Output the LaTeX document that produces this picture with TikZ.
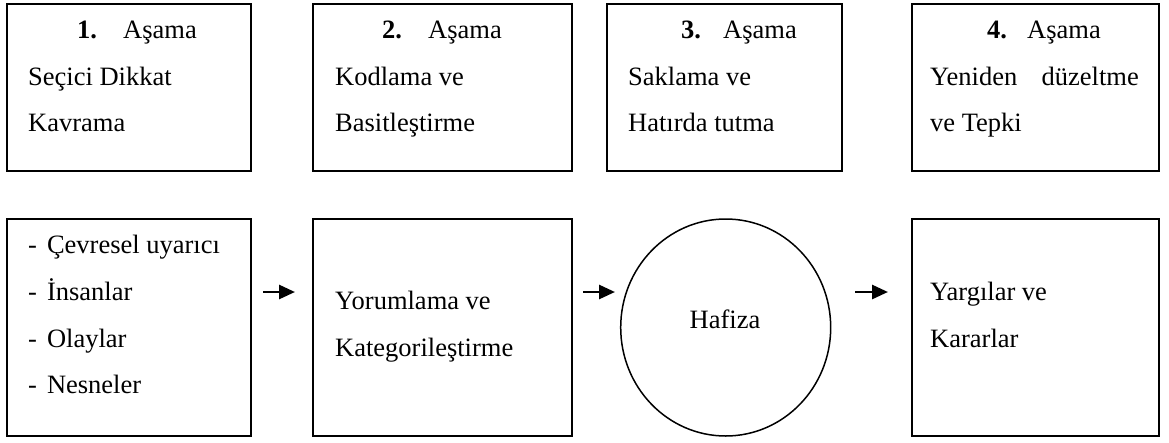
\documentclass[tikz,border=0pt]{standalone}
\usepackage{fontspec}
\setmainfont{Liberation Serif}
\usetikzlibrary{arrows.meta,shapes.geometric}
\begin{document}
\begin{tikzpicture}[x=1pt,y=-1pt,
  box/.style={draw=black,line width=1.8pt,rectangle,inner sep=0pt},
  txt/.style={inner sep=0pt,anchor=base west,font=\fontsize{26.5}{30}\selectfont},
  txtc/.style={inner sep=0pt,anchor=base,font=\fontsize{26.5}{30}\selectfont},
  txte/.style={inner sep=0pt,anchor=base east,font=\fontsize{26.5}{30}\selectfont},
  arr/.style={line width=2.8pt,-{Triangle[length=16pt,width=14pt]}}]
\useasboundingbox (0,0) rectangle (1169,442);
% top boxes
\node[box,minimum width=244pt,minimum height=167pt] (t1) at (129,87.5) {};
\node[box,minimum width=259pt,minimum height=167pt] (t2) at (442.5,87.5) {};
\node[box,minimum width=235pt,minimum height=167pt] (t3) at (724.5,87.5) {};
\node[box,minimum width=247pt,minimum height=167pt] (t4) at (1035.5,87.5) {};
% bottom shapes
\node[box,minimum width=244pt,minimum height=217pt] (b1) at (129,327.5) {};
\node[box,minimum width=259pt,minimum height=217pt] (b2) at (442.5,327.5) {};
\node[draw=black,line width=1.5pt,ellipse,inner sep=0pt,minimum width=210pt,minimum height=217pt] (b3) at (725.7,327.5) {};
\node[box,minimum width=247pt,minimum height=217pt] (b4) at (1035.5,327.5) {};
% top texts
\node[txt] (t1n) at (77,38) {\textbf{1.}};
\node[txt] (t1a) at (123,38) {Aşama};
\node[txt] (t1b) at (28,85) {Seçici Dikkat};
\node[txt] (t1c) at (28,131) {Kavrama};
\node[txt] (t2n) at (382,38) {\textbf{2.}};
\node[txt] (t2a) at (428,38) {Aşama};
\node[txt] (t2b) at (335,85) {Kodlama ve};
\node[txt] (t2c) at (335,131) {Basitleştirme};
\node[txt] (t3n) at (681,38) {\textbf{3.}};
\node[txt] (t3a) at (723,38) {Aşama};
\node[txt] (t3b) at (628,85) {Saklama ve};
\node[txt] (t3c) at (628,131) {Hatırda tutma};
\node[txt] (t4n) at (987,38) {\textbf{4.}};
\node[txt] (t4a) at (1027,38) {Aşama};
\node[txt] (t4b) at (930,85) {Yeniden};
\node[txte] (t4b2) at (1139,85) {düzeltme};
\node[txt] (t4c) at (930,131) {ve Tepki};
% bottom texts
\node[txt] (b1a) at (28,253) {-\hspace{10pt}Çevresel uyarıcı};
\node[txt] (b1b) at (28,300) {-\hspace{10pt}İnsanlar};
\node[txt] (b1c) at (28,347) {-\hspace{10pt}Olaylar};
\node[txt] (b1d) at (28,393) {-\hspace{10pt}Nesneler};
\node[txt] (b2a) at (335,309) {Yorumlama ve};
\node[txt] (b2b) at (335,356) {Kategorileştirme};
\node[txtc] (b3a) at (725,328) {Hafiza};
\node[txt] (b4a) at (930,300) {Yargılar ve};
\node[txt] (b4b) at (930,347) {Kararlar};
% arrows
\coordinate (a1s) at (263,292);
\coordinate (a1e) at (295,292);
\coordinate (a2s) at (583,292);
\coordinate (a2e) at (615,292);
\coordinate (a3s) at (855,292);
\coordinate (a3e) at (888,292);
\draw[arr] (a1s) -- (a1e);
\draw[arr] (a2s) -- (a2e);
\draw[arr] (a3s) -- (a3e);
\end{tikzpicture}
\end{document}
